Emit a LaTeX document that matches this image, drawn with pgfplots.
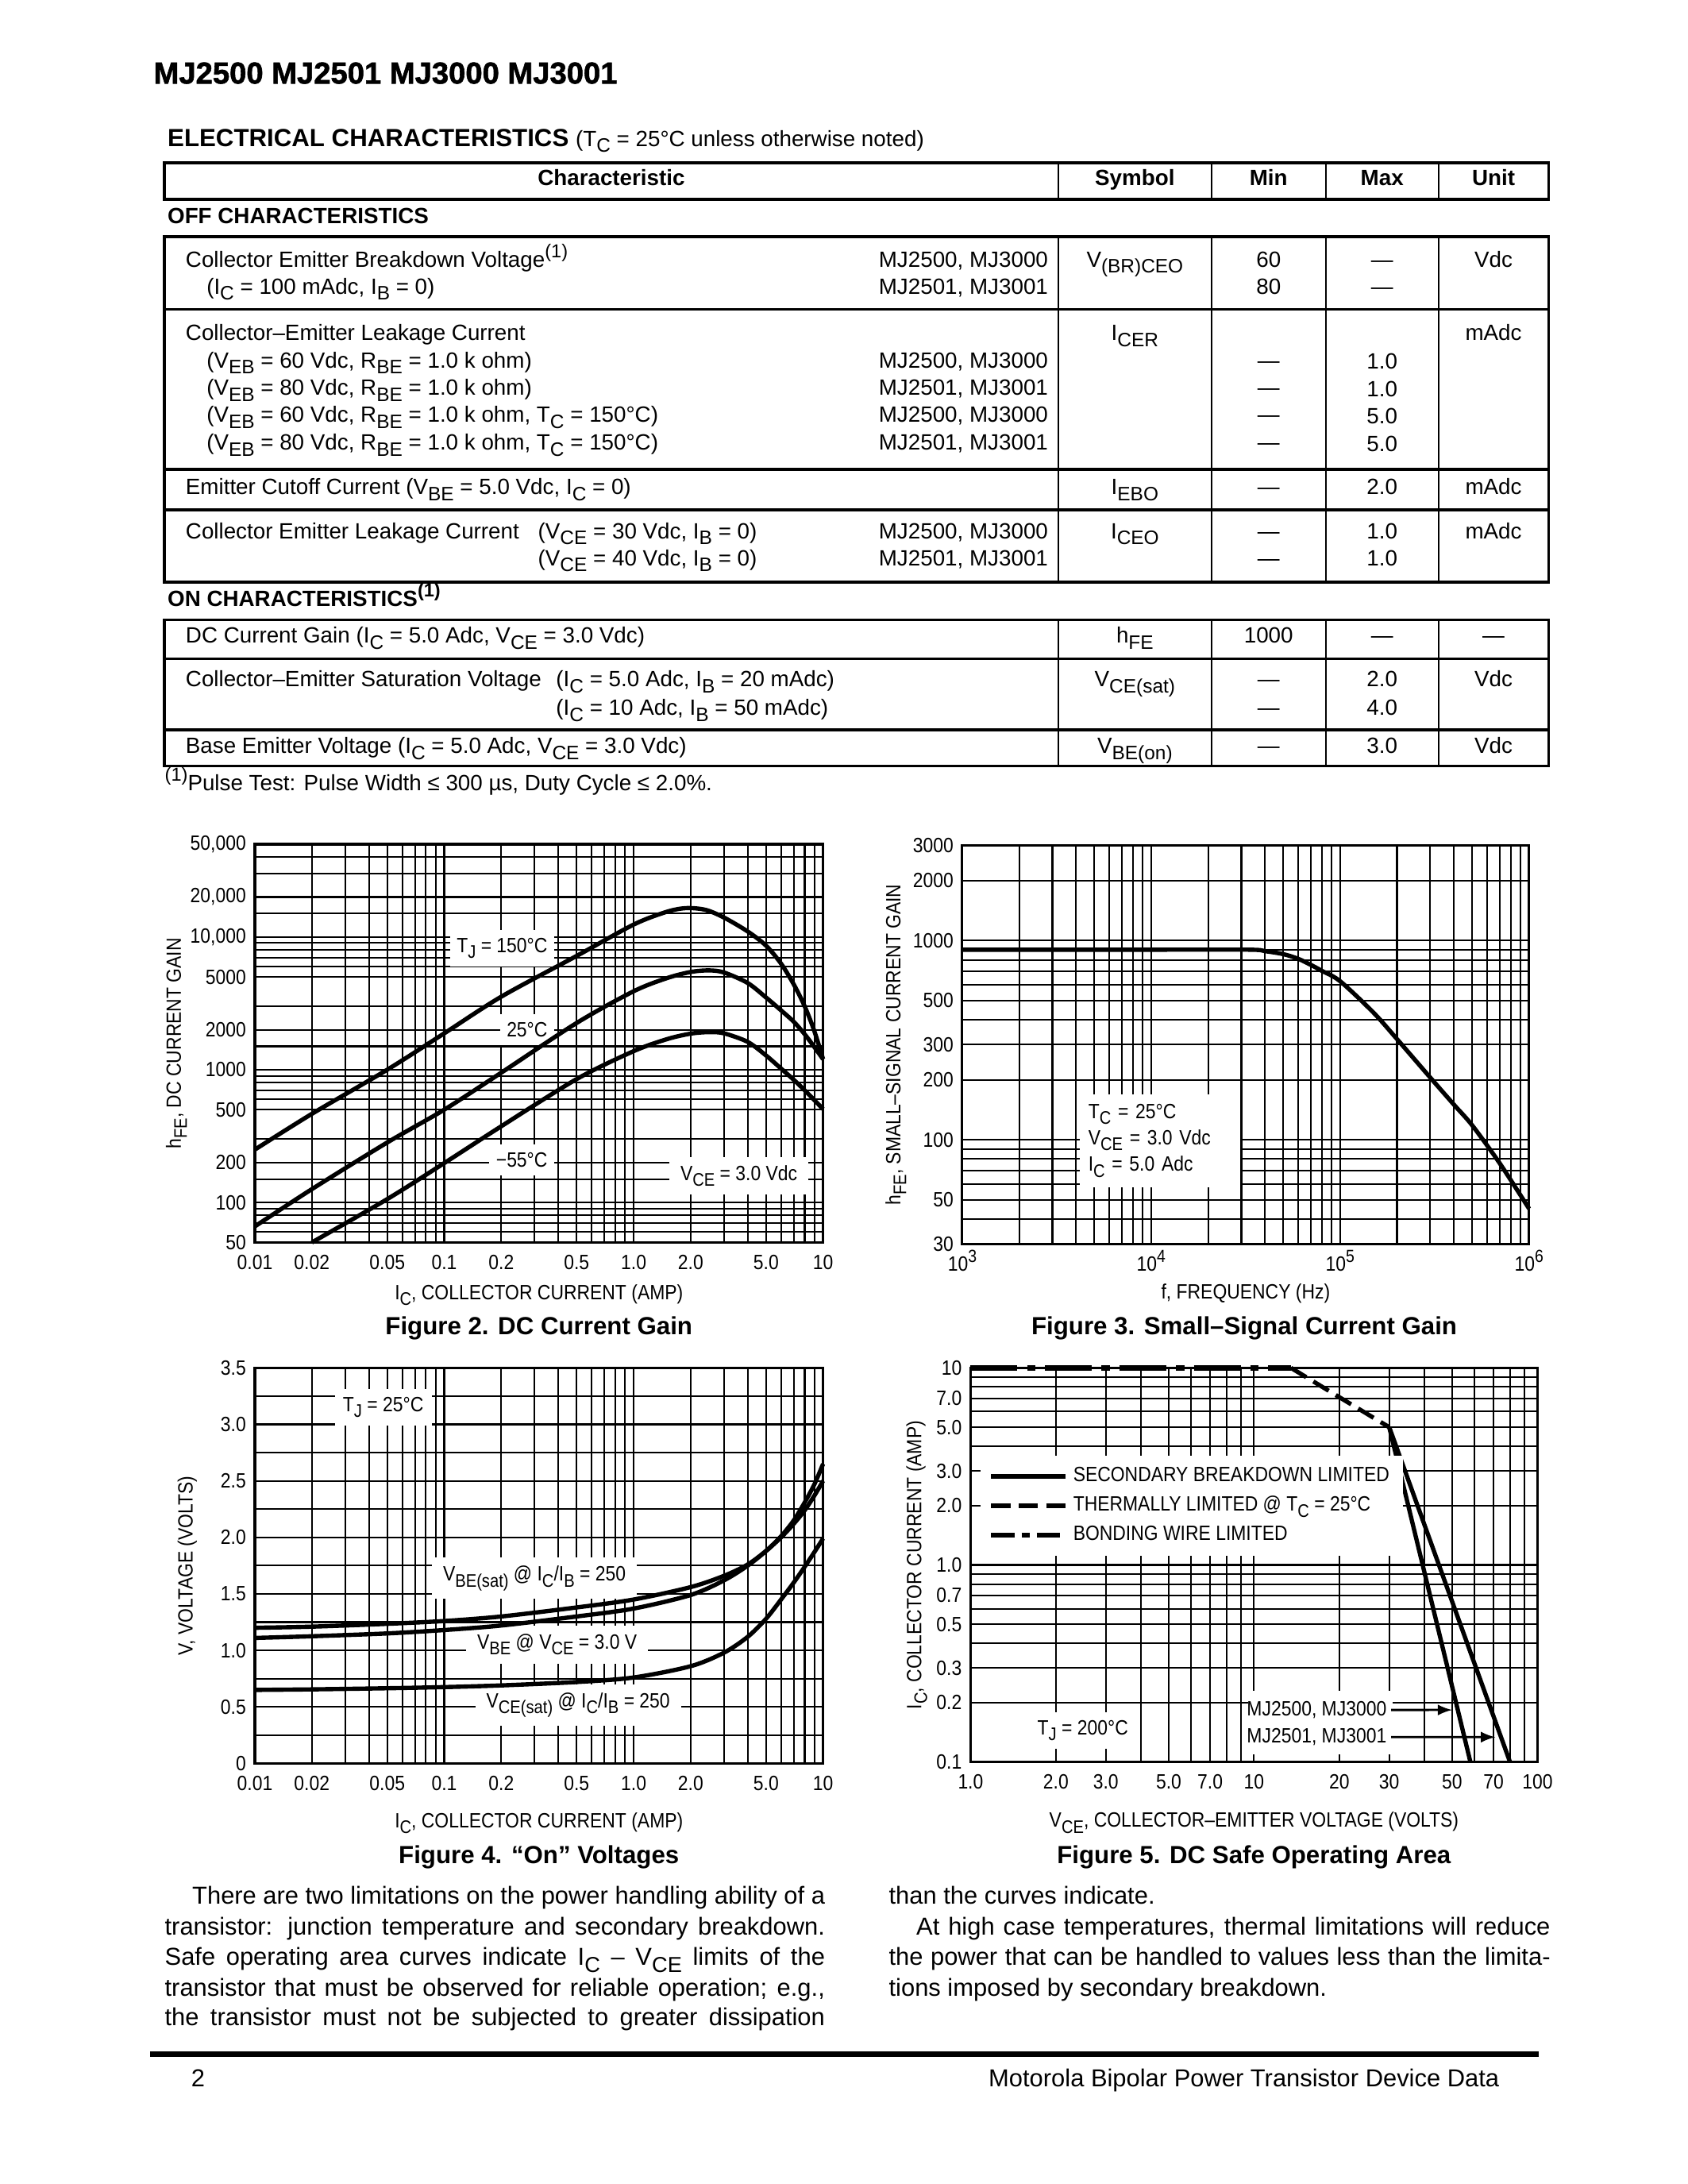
\documentclass[border=0pt]{standalone}
\usepackage{fontspec}
\setmainfont{Liberation Sans}
\newfontfamily\narrow[FakeStretch=0.88]{Liberation Sans}
\newfontfamily\heavy[FakeBold=1.5]{Liberation Sans Bold}
\usepackage{graphicx}
\usepackage{pgfplots}
\pgfplotsset{compat=1.18}

\newcommand\sub[1]{\raisebox{-0.28em}{\scalebox{0.88}{#1}}}
\newcommand\sups[1]{\raisebox{0.42em}{\scalebox{0.85}{#1}}}
\newcommand\fT{\fontsize{8}{9.6}\selectfont}
\newcommand\fC{\narrow\fontsize{7.5}{9}\selectfont}
\newcommand\fB{\fontsize{8.9}{11}\selectfont}
\newcommand\tL[3]{\node[anchor=base west,inner sep=0pt,font=\fT] at (#1,#2) {#3};}
\newcommand\tR[3]{\node[anchor=base east,inner sep=0pt,font=\fT] at (#1,#2) {#3};}
\newcommand\tM[3]{\node[anchor=base,inner sep=0pt,font=\fT] at (#1,#2) {#3};}
\newcommand\bL[4]{\node[anchor=base west,inner sep=0pt,font=\fB] at (#1,#2) {\makebox[#3][s]{#4}};}

\tikzset{lab/.style={fill=white,font=\fC,inner xsep=2.5pt,inner ysep=3pt}}

\pgfplotsset{ds/.style={
  scale only axis, clip=false,
  axis line style={line width=0.9pt},
  grid=both,
  major grid style={line width=0.6pt,black},
  minor grid style={line width=0.6pt,black},
  major tick length=0pt, minor tick length=0pt,
  xticklabel style={font=\fC,anchor=base,inner sep=0pt,yshift=-9.9pt},
  yticklabel style={font=\fC,anchor=east,inner sep=0pt,xshift=-3pt},
  label style={font=\fC,inner sep=0pt},
},
cv/.style={line width=1.55pt,black,mark=none}}

\begin{document}
\begin{tikzpicture}
\begin{scope}[x=0.50505pt,y=-0.50505pt]
\useasboundingbox (0,0) rectangle (1212,1568);
\fill[white] (0,0) rectangle (1212,1568);

% ---------- header ----------
\node[anchor=base west,inner sep=0pt,font=\heavy\fontsize{11}{13}\selectfont] at (110,60) {MJ2500 MJ2501 MJ3000 MJ3001};
\node[anchor=base west,inner sep=0pt] at (120,105) {\bfseries\fontsize{9}{11}\selectfont ELECTRICAL CHARACTERISTICS \fontsize{8}{10}\selectfont\mdseries(T\sub{C} = 25°C unless otherwise noted)};

% ---------- table lines ----------
\foreach \a/\b in {117/143,170/418,445/550}{
  \draw[line width=0.5pt] (760,\a) -- (760,\b) (870,\a) -- (870,\b) (952,\a) -- (952,\b) (1033,\a) -- (1033,\b);
  \draw[line width=1pt] (118,\a) rectangle (1112,\b);
}
\draw[line width=1pt] (118,222) -- (1112,222) (118,337) -- (1112,337) (118,366) -- (1112,366)
  (118,473) -- (1112,473) (118,524) -- (1112,524);

\node[anchor=base,inner sep=0pt,font=\bfseries\fT] at (439,133) {Characteristic};
\node[anchor=base,inner sep=0pt,font=\bfseries\fT] at (815,133) {Symbol};
\node[anchor=base,inner sep=0pt,font=\bfseries\fT] at (911,133) {Min};
\node[anchor=base,inner sep=0pt,font=\bfseries\fT] at (992.5,133) {Max};
\node[anchor=base,inner sep=0pt,font=\bfseries\fT] at (1072.5,133) {Unit};
\node[anchor=base west,inner sep=0pt,font=\bfseries\fT] at (120,160.7) {OFF CHARACTERISTICS};
\node[anchor=base west,inner sep=0pt,font=\bfseries\fT] at (120,435.4) {ON CHARACTERISTICS\sups{(1)}};

% rows
\tL{133}{191.7}{Collector Emitter Breakdown Voltage\sups{(1)}}
\tR{753}{191.7}{MJ2500, MJ3000}
\tM{815}{191.7}{V\sub{(BR)CEO}}
\tM{911}{191.7}{60}\tM{992.5}{191.7}{—}\tM{1072.5}{191.7}{Vdc}
\tL{148}{211}{(I\sub{C} = 100 mAdc, I\sub{B} = 0)}
\tR{753}{211}{MJ2501, MJ3001}
\tM{911}{211}{80}\tM{992.5}{211}{—}

\tL{133}{244.3}{Collector–Emitter Leakage Current}
\tM{815}{244.3}{I\sub{CER}}\tM{1072.5}{244.3}{mAdc}
\tL{148}{264}{(V\sub{EB} = 60 Vdc, R\sub{BE} = 1.0 k ohm)}
\tR{753}{264}{MJ2500, MJ3000}\tM{911}{264}{—}\tM{992.5}{265}{1.0}
\tL{148}{283.7}{(V\sub{EB} = 80 Vdc, R\sub{BE} = 1.0 k ohm)}
\tR{753}{283.7}{MJ2501, MJ3001}\tM{911}{283.7}{—}\tM{992.5}{284.7}{1.0}
\tL{148}{303.3}{(V\sub{EB} = 60 Vdc, R\sub{BE} = 1.0 k ohm, T\sub{C} = 150°C)}
\tR{753}{303.3}{MJ2500, MJ3000}\tM{911}{303.3}{—}\tM{992.5}{304.3}{5.0}
\tL{148}{322.9}{(V\sub{EB} = 80 Vdc, R\sub{BE} = 1.0 k ohm, T\sub{C} = 150°C)}
\tR{753}{322.9}{MJ2501, MJ3001}\tM{911}{322.9}{—}\tM{992.5}{323.9}{5.0}

\tL{133}{355.2}{Emitter Cutoff Current (V\sub{BE} = 5.0 Vdc, I\sub{C} = 0)}
\tM{815}{355.2}{I\sub{EBO}}\tM{911}{355.2}{—}\tM{992.5}{355.2}{2.0}\tM{1072.5}{355.2}{mAdc}

\tL{133}{386.6}{Collector Emitter Leakage Current}
\tL{386}{386.6}{(V\sub{CE} = 30 Vdc, I\sub{B} = 0)}
\tR{753}{386.6}{MJ2500, MJ3000}
\tM{815}{386.6}{I\sub{CEO}}\tM{911}{386.6}{—}\tM{992.5}{386.6}{1.0}\tM{1072.5}{386.6}{mAdc}
\tL{386}{406}{(V\sub{CE} = 40 Vdc, I\sub{B} = 0)}
\tR{753}{406}{MJ2501, MJ3001}\tM{911}{406}{—}\tM{992.5}{406}{1.0}

\tL{133}{461.7}{DC Current Gain (I\sub{C} = 5.0 Adc, V\sub{CE} = 3.0 Vdc)}
\tM{815}{461.7}{h\sub{FE}}\tM{911}{461.7}{1000}\tM{992.5}{461.7}{—}\tM{1072.5}{461.7}{—}

\tL{133}{493}{Collector–Emitter Saturation Voltage}
\tL{399}{493}{(I\sub{C} = 5.0 Adc, I\sub{B} = 20 mAdc)}
\tM{815}{493}{V\sub{CE(sat)}}\tM{911}{493}{—}\tM{992.5}{493}{2.0}\tM{1072.5}{493}{Vdc}
\tL{399}{513.4}{(I\sub{C} = 10 Adc, I\sub{B} = 50 mAdc)}
\tM{911}{513.4}{—}\tM{992.5}{513.4}{4.0}

\tL{133}{541}{Base Emitter Voltage (I\sub{C} = 5.0 Adc, V\sub{CE} = 3.0 Vdc)}
\tM{815}{541}{V\sub{BE(on)}}\tM{911}{541}{—}\tM{992.5}{541}{3.0}\tM{1072.5}{541}{Vdc}

\tL{118}{567.6}{\sups{(1)}Pulse Test: Pulse Width ≤ 300 µs, Duty Cycle ≤ 2.0\%.}

% captions
\node[anchor=base,inner sep=0pt,font=\bfseries\fontsize{9}{11}\selectfont] at (387,958) {Figure 2. DC Current Gain};
\node[anchor=base,inner sep=0pt,font=\bfseries\fontsize{9}{11}\selectfont] at (893.5,958) {Figure 3. Small–Signal Current Gain};
\node[anchor=base,inner sep=0pt,font=\bfseries\fontsize{9}{11}\selectfont] at (387,1338) {Figure 4. “On” Voltages};
\node[anchor=base,inner sep=0pt,font=\bfseries\fontsize{9}{11}\selectfont] at (900.5,1338) {Figure 5. DC Safe Operating Area};

% ---------- body text ----------
\bL{137.7}{1367}{229.5pt}{There are two limitations on the power handling ability of a}
\bL{118}{1389}{239.4pt}{transistor: junction temperature and secondary breakdown.}
\bL{118}{1411}{239.4pt}{Safe operating area curves indicate I\sub{C} – V\sub{CE} limits of the}
\bL{118}{1433}{239.4pt}{transistor that must be observed for reliable operation; e.g.,}
\bL{118}{1454}{239.4pt}{the transistor must not be subjected to greater dissipation}
\node[anchor=base west,inner sep=0pt,font=\fB] at (638,1367) {than the curves indicate.};
\bL{657.7}{1389}{229.9pt}{At high case temperatures, thermal limitations will reduce}
\bL{638}{1411}{239.9pt}{the power that can be handled to values less than the limita-}
\node[anchor=base west,inner sep=0pt,font=\fB] at (638,1433) {tions imposed by secondary breakdown.};

% ---------- footer ----------
\draw[line width=2pt] (108,1475) -- (1105,1475);
\node[anchor=base west,inner sep=0pt,font=\fB] at (137,1498) {2};
\node[anchor=base east,inner sep=0pt,font=\fB] at (1077,1498) {Motorola Bipolar Power Transistor Device Data};
\end{scope}

% ---------- Figure 2 ----------
\begin{axis}[ds, at={(92.424pt,-450.505pt)}, anchor=south west, width=206.1pt, height=144.4pt,
  xmode=log, ymode=log, xmin=0.01, xmax=10, ymin=50, ymax=50000,
  xtick={0.01,0.02,0.05,0.1,0.2,0.5,1,2,5,10},
  xticklabels={0.01,0.02,0.05,0.1,0.2,0.5,1.0,2.0,5.0,10},
  minor xtick={0.03,0.04,0.06,0.07,0.08,0.09,0.3,0.4,0.6,0.7,0.8,0.9,3,4,6,7,8,9},
  ytick={50,100,200,500,1000,2000,5000,10000,20000,50000},
  yticklabels={50,100,200,500,1000,2000,5000,{10,000},{20,000},{50,000}},
  minor ytick={60,70,80,90,150,300,600,700,800,900,1500,3000,6000,7000,8000,9000,15000,30000,40000},
  xlabel={I\sub{C}, COLLECTOR CURRENT (AMP)},
  xlabel style={at={(axis description cs:0.5,-0.143)},anchor=base},
  ylabel={h\sub{FE}, DC CURRENT GAIN},
  ylabel style={at={(axis description cs:-0.138,0.5)},anchor=center},
]
\node[lab,anchor=east] at (rel axis cs:0.528,0.739) {T\sub{J} = 150°C};
\node[lab,anchor=east] at (rel axis cs:0.528,0.535) {25°C};
\node[lab,anchor=east] at (rel axis cs:0.528,0.207) {−55°C};
\node[lab,anchor=east,inner xsep=4pt] at (rel axis cs:0.975,0.167) {V\sub{CE} = 3.0 Vdc};
\addplot[cv,smooth] coordinates {(0.01,250) (0.02,465) (0.05,1000) (0.1,1880) (0.2,3550) (0.5,7200) (1,12400) (1.5,15500) (1.9,16500) (2.4,16000) (3,14000) (4,11000) (5,8600) (6,6300) (7,4400) (8,3000) (9,1950) (10,1200)};
\addplot[cv,smooth] coordinates {(0.01,66) (0.02,126) (0.05,283) (0.1,500) (0.2,950) (0.5,2250) (1,3900) (1.5,4900) (2,5450) (2.5,5600) (3,5400) (4,4500) (5,3500) (6,2800) (7,2300) (8,1850) (9,1480) (10,1200)};
\addplot[cv,smooth] coordinates {(0.02,50) (0.05,106) (0.1,198) (0.2,375) (0.5,850) (1,1380) (1.5,1700) (2,1870) (2.5,1920) (3,1880) (4,1620) (5,1280) (6,1020) (7,840) (8,700) (9,590) (10,505)};
\end{axis}

% ---------- Figure 3 ----------
\begin{axis}[ds, at={(348.990pt,-451.010pt)}, anchor=south west, width=205.6pt, height=144.4pt,
  xmode=log, ymode=log, xmin=1000, xmax=1000000, ymin=30, ymax=3000,
  xtick={1000,10000,100000,1000000},
  xticklabels={10\sups{3},10\sups{4},10\sups{5},10\sups{6}},
  minor xtick={2000,3000,4000,5000,6000,7000,8000,9000,20000,30000,40000,50000,60000,70000,80000,90000,200000,300000,400000,500000,600000,700000,800000,900000},
  ytick={30,50,100,200,300,500,1000,2000,3000},
  yticklabels={30,50,100,200,300,500,1000,2000,3000},
  minor ytick={40,60,70,80,90,400,600,700,800,900},
  xlabel={f, FREQUENCY (Hz)},
  xlabel style={at={(axis description cs:0.5,-0.138)},anchor=base},
  ylabel={h\sub{FE}, SMALL–SIGNAL CURRENT GAIN},
  ylabel style={at={(axis description cs:-0.117,0.5)},anchor=center},
]
\node[fill=white,font={\narrow\fontsize{7.5}{9.6}\selectfont},align=left,text width=52pt,inner xsep=3pt,inner ysep=3.5pt,anchor=west] at (rel axis cs:0.207,0.259) {T\sub{C} = 25°C\\V\sub{CE} = 3.0 Vdc\\I\sub{C} = 5.0 Adc};
\addplot[cv,smooth] coordinates {(1000,900) (10000,900) (33000,900) (40000,885) (50000,855) (60000,810) (70000,755) (80000,705) (100000,625) (150000,435) (200000,320) (300000,205) (400000,150) (500000,118) (700000,76) (1000000,45)};
\end{axis}

% ---------- Figure 4 ----------
\begin{axis}[ds, at={(92.424pt,-639.393pt)}, anchor=south west, width=206.1pt, height=143.4pt,
  xmode=log, xmin=0.01, xmax=10, ymin=0, ymax=3.5,
  xtick={0.01,0.02,0.05,0.1,0.2,0.5,1,2,5,10},
  xticklabels={0.01,0.02,0.05,0.1,0.2,0.5,1.0,2.0,5.0,10},
  minor xtick={0.03,0.04,0.06,0.07,0.08,0.09,0.3,0.4,0.6,0.7,0.8,0.9,3,4,6,7,8,9},
  ytick={0,0.5,1,1.5,2,2.5,3,3.5},
  yticklabels={0,0.5,1.0,1.5,2.0,2.5,3.0,3.5},
  minor ytick={0.25,0.75,1.25,1.75,2.25,2.75,3.25},
  xlabel={I\sub{C}, COLLECTOR CURRENT (AMP)},
  xlabel style={at={(axis description cs:0.5,-0.162)},anchor=base},
  ylabel={V, VOLTAGE (VOLTS)},
  ylabel style={at={(axis description cs:-0.119,0.5)},anchor=center},
]
\node[lab,inner xsep=3pt] at (rel axis cs:0.226,0.90) {T\sub{J} = 25°C};
\node[lab,inner xsep=4pt] at (rel axis cs:0.492,0.468) {V\sub{BE(sat)} @ I\sub{C}/I\sub{B} = 250};
\node[lab,inner xsep=4pt] at (rel axis cs:0.532,0.300) {V\sub{BE} @ V\sub{CE} = 3.0 V};
\node[lab,inner xsep=4pt] at (rel axis cs:0.569,0.147) {V\sub{CE(sat)} @ I\sub{C}/I\sub{B} = 250};
\addplot[cv,smooth] coordinates {(0.01,1.20) (0.02,1.21) (0.05,1.235) (0.1,1.26) (0.2,1.30) (0.5,1.38) (1,1.45) (2,1.56) (3,1.66) (4,1.76) (5,1.88) (6,2.0) (7,2.12) (8,2.24) (9,2.37) (10,2.50)};
\addplot[cv,smooth] coordinates {(0.01,1.11) (0.02,1.125) (0.05,1.15) (0.1,1.18) (0.2,1.22) (0.5,1.30) (1,1.37) (2,1.49) (3,1.62) (4,1.75) (5,1.88) (6,2.01) (7,2.15) (8,2.31) (9,2.47) (10,2.65)};
\addplot[cv,smooth] coordinates {(0.01,0.65) (0.02,0.655) (0.05,0.665) (0.1,0.675) (0.2,0.69) (0.5,0.72) (1,0.76) (2,0.86) (3,0.98) (4,1.12) (5,1.28) (6,1.45) (7,1.60) (8,1.74) (9,1.87) (10,1.99)};
\end{axis}

% ---------- Figure 5 ----------
\begin{axis}[ds, at={(352.020pt,-638.888pt)}, anchor=south west, width=205.6pt, height=142.9pt,
  xmode=log, ymode=log, xmin=1, xmax=100, ymin=0.1, ymax=10,
  xtick={1,2,3,5,7,10,20,30,50,70,100},
  xticklabels={1.0,2.0,3.0,5.0,7.0,10,20,30,50,70,100},
  minor xtick={4,6,8,9,40,60,80,90},
  ytick={0.1,0.2,0.3,0.5,0.7,1,2,3,5,7,10},
  yticklabels={0.1,0.2,0.3,0.5,0.7,1.0,2.0,3.0,5.0,7.0,10},
  minor ytick={0.4,0.6,0.8,0.9,4,6,8,9},
  xlabel={V\sub{CE}, COLLECTOR–EMITTER VOLTAGE (VOLTS)},
  xlabel style={at={(axis description cs:0.5,-0.166)},anchor=base},
  ylabel={I\sub{C}, COLLECTOR CURRENT (AMP)},
  ylabel style={at={(axis description cs:-0.095,0.5)},anchor=center},
  legend style={at={(0.017,0.779)},anchor=north west,draw=none,fill=white,font=\fC,inner xsep=3pt,inner ysep=3pt,row sep=1.4pt,nodes={inner ysep=1.2pt,inner xsep=2pt}},
  legend cell align=left,
  legend image code/.code={\draw[#1] (0pt,0pt) -- (27pt,0pt);},
]
\fill[white] (rel axis cs:0.49,0.02) rectangle (rel axis cs:0.745,0.18);
\node[lab,inner xsep=3pt] at (rel axis cs:0.198,0.08) {T\sub{J} = 200°C};
\node[font=\fC,anchor=east,inner sep=1.5pt] at (rel axis cs:0.742,0.132) {MJ2500, MJ3000};
\node[font=\fC,anchor=east,inner sep=1.5pt] at (rel axis cs:0.742,0.063) {MJ2501, MJ3001};
\draw[line width=0.8pt,-latex] (rel axis cs:0.742,0.132) -- (axis cs:50,0.1837);
\draw[line width=0.8pt,-latex] (rel axis cs:0.742,0.063) -- (axis cs:71,0.1337);
\addplot[cv,forget plot] coordinates {(30,5) (58,0.1)};
\addplot[cv,forget plot] coordinates {(30,5) (80,0.1)};
\addplot[cv,forget plot,dash pattern=on 6.5pt off 3pt] coordinates {(13.5,10) (20,7.1) (30,5)};
\addplot[cv,forget plot,line width=2pt,dash pattern=on 17pt off 3.5pt on 3pt off 3.5pt] coordinates {(1,10) (13.5,10)};
\addlegendimage{cv}
\addlegendentry{SECONDARY BREAKDOWN LIMITED}
\addlegendimage{cv,dash pattern=on 7pt off 3pt}
\addlegendentry{THERMALLY LIMITED @ T\sub{C} = 25°C}
\addlegendimage{cv,dash pattern=on 8.5pt off 2.5pt on 3pt off 2.5pt}
\addlegendentry{BONDING WIRE LIMITED}
\end{axis}
\end{tikzpicture}
\end{document}
